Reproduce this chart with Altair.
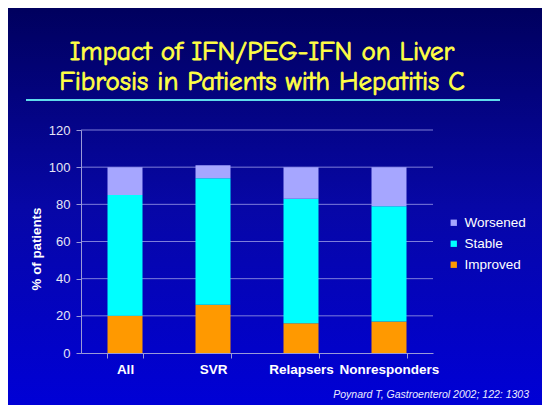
import altair as alt
import pandas as pd

# ---- data ----
categories = ["All", "SVR", "Relapsers", "Nonresponders"]
improved = [20, 26, 16, 17]
stable = [65, 68, 67, 62]
worsened = [15, 7, 17, 21]

series_names = ["Worsened", "Stable", "Improved"]
series_colors = ["#a6a6ff", "#00ffff", "#ff9900"]
stack_rank = {"Improved": 0, "Stable": 1, "Worsened": 2}

title_lines = ["Impact of IFN/PEG-IFN on Liver", "Fibrosis in Patients with Hepatitis C"]
citation = "Poynard T, Gastroenterol 2002; 122: 1303"
y_ticks = [0, 20, 40, 60, 80, 100, 120]

rows = []
for i, c in enumerate(categories):
    for name, vals in (("Improved", improved), ("Stable", stable), ("Worsened", worsened)):
        rows.append({"group": c, "status": name, "value": vals[i], "rank": stack_rank[name]})
df = pd.DataFrame(rows)
grid_df = pd.DataFrame({"value": y_ticks[1:]})

# plot-area geometry (chart coordinates are page coordinates minus the 8px margin)
W, H = 352, 223
PAD = {"left": 73, "top": 122, "right": 109, "bottom": 52}

one = alt.Data(values=[{}])
AXIS_COLOR = "#9a9ad8"

background = alt.Chart(one).mark_rect(
    fill=alt.LinearGradient(
        gradient="linear", x1=0, y1=0, x2=0, y2=1,
        stops=[alt.GradientStop(offset=0, color="#00005e"),
               alt.GradientStop(offset=0.5, color="#0707a6"),
               alt.GradientStop(offset=1, color="#0000d6")],
    ),
    strokeWidth=0,
).encode(
    x=alt.value(-PAD["left"]), x2=alt.value(W + PAD["right"]),
    y=alt.value(-PAD["top"]), y2=alt.value(H + PAD["bottom"]),
)

y_scale = alt.Scale(domain=[0, 120], nice=False)
y_axis = alt.Axis(values=y_ticks, title="% of patients", tickSize=5,
                  labelFontSize=13, labelColor="#e6e6f5", labelFont="Liberation Sans",
                  labelPadding=6, titleFontSize=13.3, titleFontWeight="bold",
                  titleColor="#ffffff", titleFont="Liberation Sans", titlePadding=5,
                  titleY=H / 2 + 7,
                  domainColor=AXIS_COLOR, tickColor=AXIS_COLOR,
                  grid=False, zindex=1)

grid = alt.Chart(grid_df).mark_rule(color="#8c8ce0", strokeWidth=1, opacity=0.9).encode(
    y=alt.Y("value:Q", scale=y_scale, axis=y_axis),
    x=alt.value(0), x2=alt.value(W),
)

bars = alt.Chart(df).mark_bar(size=35).encode(
    x=alt.X("group:N", sort=categories, title=None,
            scale=alt.Scale(paddingInner=0.6, paddingOuter=0.3),
            axis=alt.Axis(labelAngle=0, tickBand="extent", tickSize=5,
                          labelFontSize=13.5, labelFontWeight="bold",
                          labelColor="#ffffff", labelFont="Liberation Sans",
                          labelPadding=4, domainColor=AXIS_COLOR, tickColor=AXIS_COLOR,
                          grid=False, zindex=1)),
    y=alt.Y("value:Q", stack="zero", scale=y_scale, axis=y_axis),
    color=alt.Color("status:N",
                    scale=alt.Scale(domain=series_names, range=series_colors),
                    legend=alt.Legend(title=None, orient="none", legendX=366, legendY=86,
                                      symbolType="square", symbolSize=40, symbolStrokeWidth=0,
                                      labelFontSize=13.5, labelColor="#ffffff",
                                      labelFont="Liberation Sans", rowPadding=6,
                                      labelOffset=4)),
    order=alt.Order("rank:Q", sort="ascending"),
)

title = alt.Chart(alt.Data(values=[{"t": title_lines[0], "yy": -70}, {"t": title_lines[1], "yy": -40}])).mark_text(
    font="'Comic Sans MS', 'Comic Neue', Lato, sans-serif", fontSize=27,
    color="#ffff44", stroke="#ffff44", strokeWidth=0.8,
    align="center", baseline="alphabetic",
).encode(
    text="t:N", x=alt.value(181), y=alt.Y("yy:Q", scale=None),
)

underline = alt.Chart(one).mark_rule(color="#5fdcec", strokeWidth=2).encode(
    x=alt.value(-55), x2=alt.value(419), y=alt.value(-30),
)

cite = alt.Chart(one).mark_text(
    text=citation, font="Liberation Sans", fontStyle="italic", fontSize=10.5,
    color="#ececff", align="right", baseline="alphabetic",
).encode(x=alt.value(448), y=alt.value(268))

chart = alt.layer(background, grid, bars, title, underline, cite).properties(
    width=W, height=H, padding=PAD,
    autosize=alt.AutoSizeParams(type="none"),
    background="#0000a0",
).configure_view(stroke=None)

chart.save("out.html", embed_options={"renderer": "svg", "actions": False})
